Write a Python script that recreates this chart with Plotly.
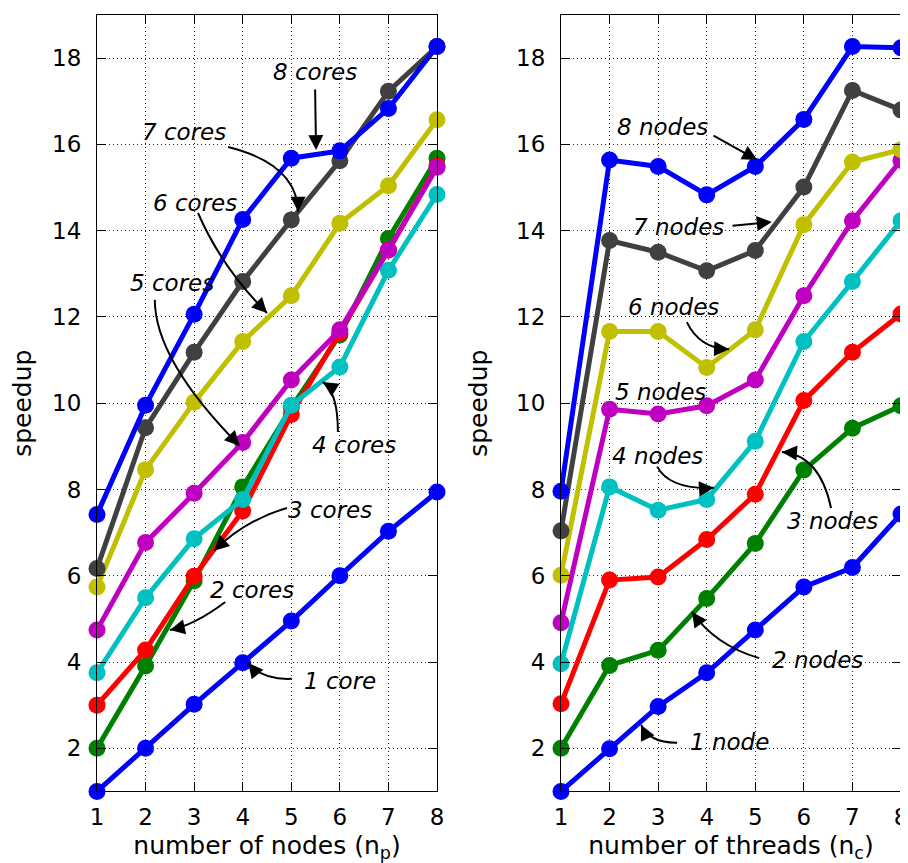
import plotly.graph_objects as go

# ---------------- data ----------------
nodes = [1, 2, 3, 4, 5, 6, 7, 8]
threads = [1, 2, 3, 4, 5, 6, 7, 8]

# left panel: speedup vs number of nodes, one series per core count
cores_1 = [1.0, 2.0, 3.02, 3.98, 4.95, 6.0, 7.03, 7.94]
cores_2 = [2.0, 3.91, 5.88, 8.06, 9.9, 11.58, 13.82, 15.68]
cores_3 = [3.0, 4.28, 5.99, 7.5, 9.74, 11.62, 13.55, 15.5]
cores_4 = [3.75, 5.49, 6.86, 7.77, 9.95, 10.84, 13.08, 14.84]
cores_5 = [4.74, 6.77, 7.91, 9.09, 10.54, 11.7, 13.55, 15.47]
cores_6 = [5.74, 8.46, 10.02, 11.43, 12.49, 14.17, 15.04, 16.57]
cores_7 = [6.17, 9.43, 11.18, 12.82, 14.25, 15.62, 17.23, 18.27]
cores_8 = [7.42, 9.95, 12.06, 14.26, 15.68, 15.85, 16.83, 18.27]

# right panel: speedup vs number of threads, one series per node count
nodes_1 = [1.0, 1.99, 2.97, 3.75, 4.74, 5.74, 6.19, 7.43]
nodes_2 = [2.0, 3.92, 4.27, 5.47, 6.75, 8.45, 9.42, 9.94]
nodes_3 = [3.03, 5.9, 5.97, 6.84, 7.89, 10.06, 11.18, 12.07]
nodes_4 = [3.96, 8.06, 7.52, 7.77, 9.12, 11.43, 12.82, 14.23]
nodes_5 = [4.91, 9.86, 9.75, 9.94, 10.54, 12.49, 14.23, 15.63]
nodes_6 = [6.01, 11.66, 11.66, 10.83, 11.7, 14.14, 15.59, 15.88]
nodes_7 = [7.04, 13.77, 13.5, 13.07, 13.54, 15.01, 17.25, 16.8]
nodes_8 = [7.96, 15.64, 15.49, 14.83, 15.49, 16.58, 18.27, 18.24]

core_labels = ["1 core", "2 cores", "3 cores", "4 cores",
               "5 cores", "6 cores", "7 cores", "8 cores"]
node_labels = ["1 node", "2 nodes", "3 nodes", "4 nodes",
               "5 nodes", "6 nodes", "7 nodes", "8 nodes"]

y_ticks = [2, 4, 6, 8, 10, 12, 14, 16, 18]

# ---------------- styles ----------------
colors = ["#0000ff", "#008000", "#ff0000", "#00c0c0",
          "#c000c0", "#c0c000", "#404040", "#0000ff"]

by_cores = [cores_1, cores_2, cores_3, cores_4, cores_5, cores_6, cores_7, cores_8]
by_nodes = [nodes_1, nodes_2, nodes_3, nodes_4, nodes_5, nodes_6, nodes_7, nodes_8]

# page body has an 8px margin, so the paper starts 8px in from the window corner
W, H = 900, 855

fig = go.Figure()
for i, ys in enumerate(by_cores):
    fig.add_trace(go.Scatter(
        x=nodes, y=ys, mode="lines+markers", name=core_labels[i],
        line=dict(color=colors[i], width=5),
        marker=dict(size=17, color=colors[i]),
        cliponaxis=False, showlegend=False, xaxis="x", yaxis="y"))
for i, ys in enumerate(by_nodes):
    fig.add_trace(go.Scatter(
        x=threads, y=ys, mode="lines+markers", name=node_labels[i],
        line=dict(color=colors[i], width=5),
        marker=dict(size=17, color=colors[i]),
        cliponaxis=False, showlegend=False, xaxis="x2", yaxis="y2"))

tick_font = dict(family="DejaVu Sans", size=23, color="black")
title_font = dict(family="DejaVu Sans", size=25, color="black")

axis_common = dict(
    showline=True, linecolor="black", linewidth=1, mirror="ticks",
    ticks="inside", ticklen=9, tickwidth=1, tickcolor="black",
    showgrid=True, gridcolor="rgba(0,0,0,0.85)", gridwidth=1, griddash="1px,3px",
    zeroline=False, tickfont=tick_font, automargin=False, ticklabeloverflow="allow",
)

ydom = [1 - 783.4 / H, 1 - 7 / H]

fig.update_layout(
    width=W, height=H, template="none",
    paper_bgcolor="white", plot_bgcolor="white",
    margin=dict(l=0, r=0, t=0, b=0),
    xaxis=dict(axis_common, domain=[89 / W, 429 / W], range=[1, 8],
               tickvals=nodes, anchor="y", ticklabelstandoff=5,
               title=dict(text="number of nodes (n<sub>p</sub>)", font=title_font, standoff=20)),
    yaxis=dict(axis_common, domain=ydom, range=[1, 19],
               tickvals=y_ticks, anchor="x", ticklabelstandoff=10,
               title=dict(text="speedup", font=title_font, standoff=21)),
    xaxis2=dict(axis_common, domain=[553 / W, 893 / W], range=[1, 8],
                tickvals=threads, anchor="y2", ticklabelstandoff=5,
                title=dict(text="number of threads (n<sub>c</sub>)", font=title_font, standoff=20)),
    yaxis2=dict(axis_common, domain=ydom, range=[1, 19],
                tickvals=y_ticks, anchor="x2", ticklabelstandoff=10,
                title=dict(text="speedup", font=title_font, standoff=21)),
)

# ---------------- annotations ----------------
note_font = dict(family="DejaVu Sans", size=23, color="black")

left_text_pos = [(6.00, 3.56), (4.19, 5.67), (5.80, 7.52), (6.29, 9.03),
                 (2.54, 12.79), (3.02, 14.64), (2.79, 16.29), (5.49, 17.68)]
right_text_pos = [(4.46, 2.15), (6.29, 4.05), (6.58, 7.27), (2.98, 8.78),
                  (3.04, 10.26), (3.31, 12.23), (3.41, 14.08), (3.08, 16.40)]

# curved arrows: (start, control, end, arrowhead tail)
left_curves = {
    0: ((5.01, 3.61), (4.40, 3.58), (4.11, 3.98), (4.27, 3.76)),
    1: ((3.64, 5.39), (3.02, 4.86), (2.50, 4.74), (2.75, 4.80)),
    2: ((4.91, 7.57), (4.05, 7.29), (3.41, 6.58), (3.59, 6.77)),
    3: ((5.96, 9.33), (5.96, 10.26), (5.65, 10.49), (5.86, 10.34)),
    4: ((2.19, 12.40), (2.19, 11.00), (3.94, 9.01), (3.77, 9.21)),
    5: ((3.08, 14.41), (3.57, 13.14), (4.50, 12.09), (4.33, 12.29)),
    6: ((3.70, 15.94), (5.12, 15.54), (5.14, 14.44), (5.14, 14.71)),
}
left_straight = {7: ((5.49, 17.31), (5.51, 15.87))}

right_curves = {
    0: ((3.39, 2.13), (2.83, 2.12), (2.65, 2.54), (2.74, 2.33)),
    1: ((5.08, 4.09), (4.17, 4.39), (3.70, 5.16), (3.84, 4.93)),
    2: ((6.56, 7.57), (6.33, 8.80), (5.55, 8.87), (5.80, 8.85)),
    3: ((2.98, 8.53), (3.24, 7.99), (4.15, 8.04), (3.90, 8.02)),
    5: ((3.59, 11.88), (3.86, 11.26), (4.46, 11.25), (4.21, 11.26)),
}
right_straight = {6: ((4.50, 14.11), (5.34, 14.20)),
                  7: ((4.11, 16.22), (5.04, 15.64))}

annotations = []
shapes = []


def add_panel(labels, text_pos, curves, straight, xr, yr):
    for i, lab in enumerate(labels):
        tx, ty = text_pos[i]
        annotations.append(dict(x=tx, y=ty, xref=xr, yref=yr, text="<i>" + lab + "</i>",
                                showarrow=False, font=note_font,
                                xanchor="center", yanchor="middle"))
    for i, (p0, c, p1, tail) in curves.items():
        shapes.append(dict(type="path", xref=xr, yref=yr,
                           path=f"M {p0[0]},{p0[1]} Q {c[0]},{c[1]} {p1[0]},{p1[1]}",
                           line=dict(color="black", width=2)))
        annotations.append(dict(x=p1[0], y=p1[1], ax=tail[0], ay=tail[1],
                                xref=xr, yref=yr, axref=xr, ayref=yr, text="",
                                showarrow=True, arrowhead=2, arrowsize=1.5,
                                arrowwidth=2, arrowcolor="black"))
    for i, (tail, head) in straight.items():
        annotations.append(dict(x=head[0], y=head[1], ax=tail[0], ay=tail[1],
                                xref=xr, yref=yr, axref=xr, ayref=yr, text="",
                                showarrow=True, arrowhead=2, arrowsize=1.5,
                                arrowwidth=2, arrowcolor="black"))


add_panel(core_labels, left_text_pos, left_curves, left_straight, "x", "y")
add_panel(node_labels, right_text_pos, right_curves, right_straight, "x2", "y2")

fig.update_layout(annotations=annotations, shapes=shapes)

fig.write_html("out.html")
